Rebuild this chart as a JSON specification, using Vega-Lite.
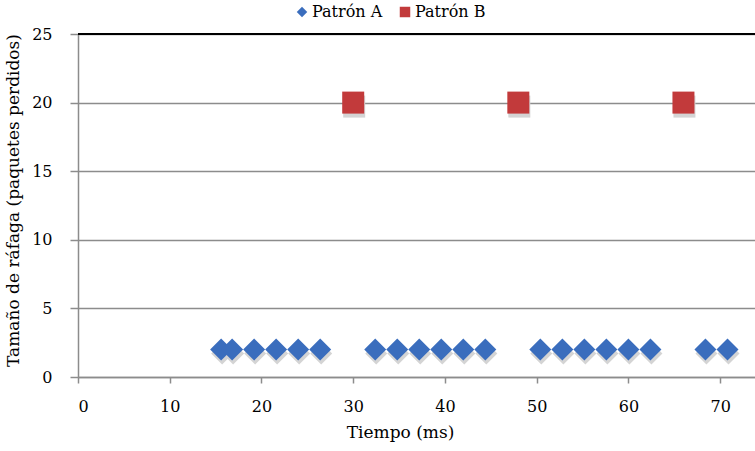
{
  "$schema": "https://vega.github.io/schema/vega-lite/v6.json",
  "autosize": "none",
  "padding": {"left": 78, "top": 34, "right": 0, "bottom": 74},
  "width": 677,
  "height": 343,
  "background": "white",
  "config": {
    "view": {"stroke": null},
    "font": "DejaVu Serif",
    "axis": {"labelFont": "DejaVu Serif", "titleFont": "DejaVu Serif", "labelColor": "#000000", "titleColor": "#000000", "titleFontWeight": "normal"},
    "legend": {"labelFont": "DejaVu Serif", "labelColor": "#000000"}
  },
  "data": {
    "values": [
      {"tiempo": 15.6, "rafaga": 2, "patron": "Patrón A"},
      {"tiempo": 16.8, "rafaga": 2, "patron": "Patrón A"},
      {"tiempo": 19.2, "rafaga": 2, "patron": "Patrón A"},
      {"tiempo": 21.6, "rafaga": 2, "patron": "Patrón A"},
      {"tiempo": 24.0, "rafaga": 2, "patron": "Patrón A"},
      {"tiempo": 26.4, "rafaga": 2, "patron": "Patrón A"},
      {"tiempo": 32.4, "rafaga": 2, "patron": "Patrón A"},
      {"tiempo": 34.8, "rafaga": 2, "patron": "Patrón A"},
      {"tiempo": 37.2, "rafaga": 2, "patron": "Patrón A"},
      {"tiempo": 39.6, "rafaga": 2, "patron": "Patrón A"},
      {"tiempo": 42.0, "rafaga": 2, "patron": "Patrón A"},
      {"tiempo": 44.4, "rafaga": 2, "patron": "Patrón A"},
      {"tiempo": 50.4, "rafaga": 2, "patron": "Patrón A"},
      {"tiempo": 52.8, "rafaga": 2, "patron": "Patrón A"},
      {"tiempo": 55.2, "rafaga": 2, "patron": "Patrón A"},
      {"tiempo": 57.6, "rafaga": 2, "patron": "Patrón A"},
      {"tiempo": 60.0, "rafaga": 2, "patron": "Patrón A"},
      {"tiempo": 62.4, "rafaga": 2, "patron": "Patrón A"},
      {"tiempo": 68.4, "rafaga": 2, "patron": "Patrón A"},
      {"tiempo": 70.8, "rafaga": 2, "patron": "Patrón A"},
      {"tiempo": 30, "rafaga": 20, "patron": "Patrón B"},
      {"tiempo": 48, "rafaga": 20, "patron": "Patrón B"},
      {"tiempo": 66, "rafaga": 20, "patron": "Patrón B"}
    ]
  },
  "layer": [
    {
      "mark": {"type": "point", "filled": true, "size": 484, "color": "#d4d4d4", "opacity": 1, "yOffset": 4, "xOffset": 1},
      "encoding": {
        "x": {"field": "tiempo", "type": "quantitative"},
        "y": {"field": "rafaga", "type": "quantitative"},
        "shape": {"field": "patron", "type": "nominal"}
      }
    },
    {
      "mark": {"type": "rule", "color": "#000000", "strokeWidth": 2},
      "encoding": {"y": {"datum": 25}}
    },
    {
      "mark": {"type": "point", "filled": true, "size": 484, "opacity": 1},
      "encoding": {
        "x": {
          "field": "tiempo", "type": "quantitative",
          "scale": {"domain": [0, 73.8], "nice": false, "zero": false},
          "axis": {
            "title": "Tiempo (ms)", "titleFontSize": 17, "titlePadding": 10, "titleX": 322, "titleAlign": "center",
            "values": [0, 10, 20, 30, 40, 50, 60, 70],
            "grid": false, "labelFontSize": 16, "labelPadding": 15,
            "tickSize": 6, "tickColor": "#8c8c8c", "domainColor": "#8c8c8c", "domainWidth": 1.5, "tickWidth": 1.5
          }
        },
        "y": {
          "field": "rafaga", "type": "quantitative",
          "scale": {"domain": [0, 25], "nice": false},
          "axis": {
            "title": "Tamaño de ráfaga (paquetes perdidos)", "titleFontSize": 17, "titlePadding": 9, "titleY": 166, "titleAlign": "center",
            "values": [0, 5, 10, 15, 20, 25],
            "grid": true, "gridColor": "#8c8c8c", "gridWidth": 1.5,
            "labelFontSize": 16, "labelPadding": 18,
            "tickSize": 8, "tickColor": "#8c8c8c", "domainColor": "#8c8c8c", "domainWidth": 1.5, "tickWidth": 1.5
          }
        },
        "shape": {
          "field": "patron", "type": "nominal",
          "scale": {"domain": ["Patrón A", "Patrón B"], "range": ["diamond", "square"]},
          "legend": {
            "title": null, "orient": "none", "direction": "horizontal",
            "legendX": 216, "legendY": -30,
            "labelFontSize": 16, "symbolSize": 110, "symbolOpacity": 1,
            "labelOffset": 2, "columnPadding": 14, "symbolStrokeWidth": 0
          }
        },
        "color": {
          "field": "patron", "type": "nominal",
          "scale": {"domain": ["Patrón A", "Patrón B"], "range": ["#3a6dbd", "#c23a3b"]},
          "legend": {
            "title": null, "orient": "none", "direction": "horizontal",
            "legendX": 216, "legendY": -30,
            "labelFontSize": 16, "symbolSize": 110, "symbolOpacity": 1,
            "labelOffset": 2, "columnPadding": 14, "symbolStrokeWidth": 0
          }
        }
      }
    }
  ]
}
